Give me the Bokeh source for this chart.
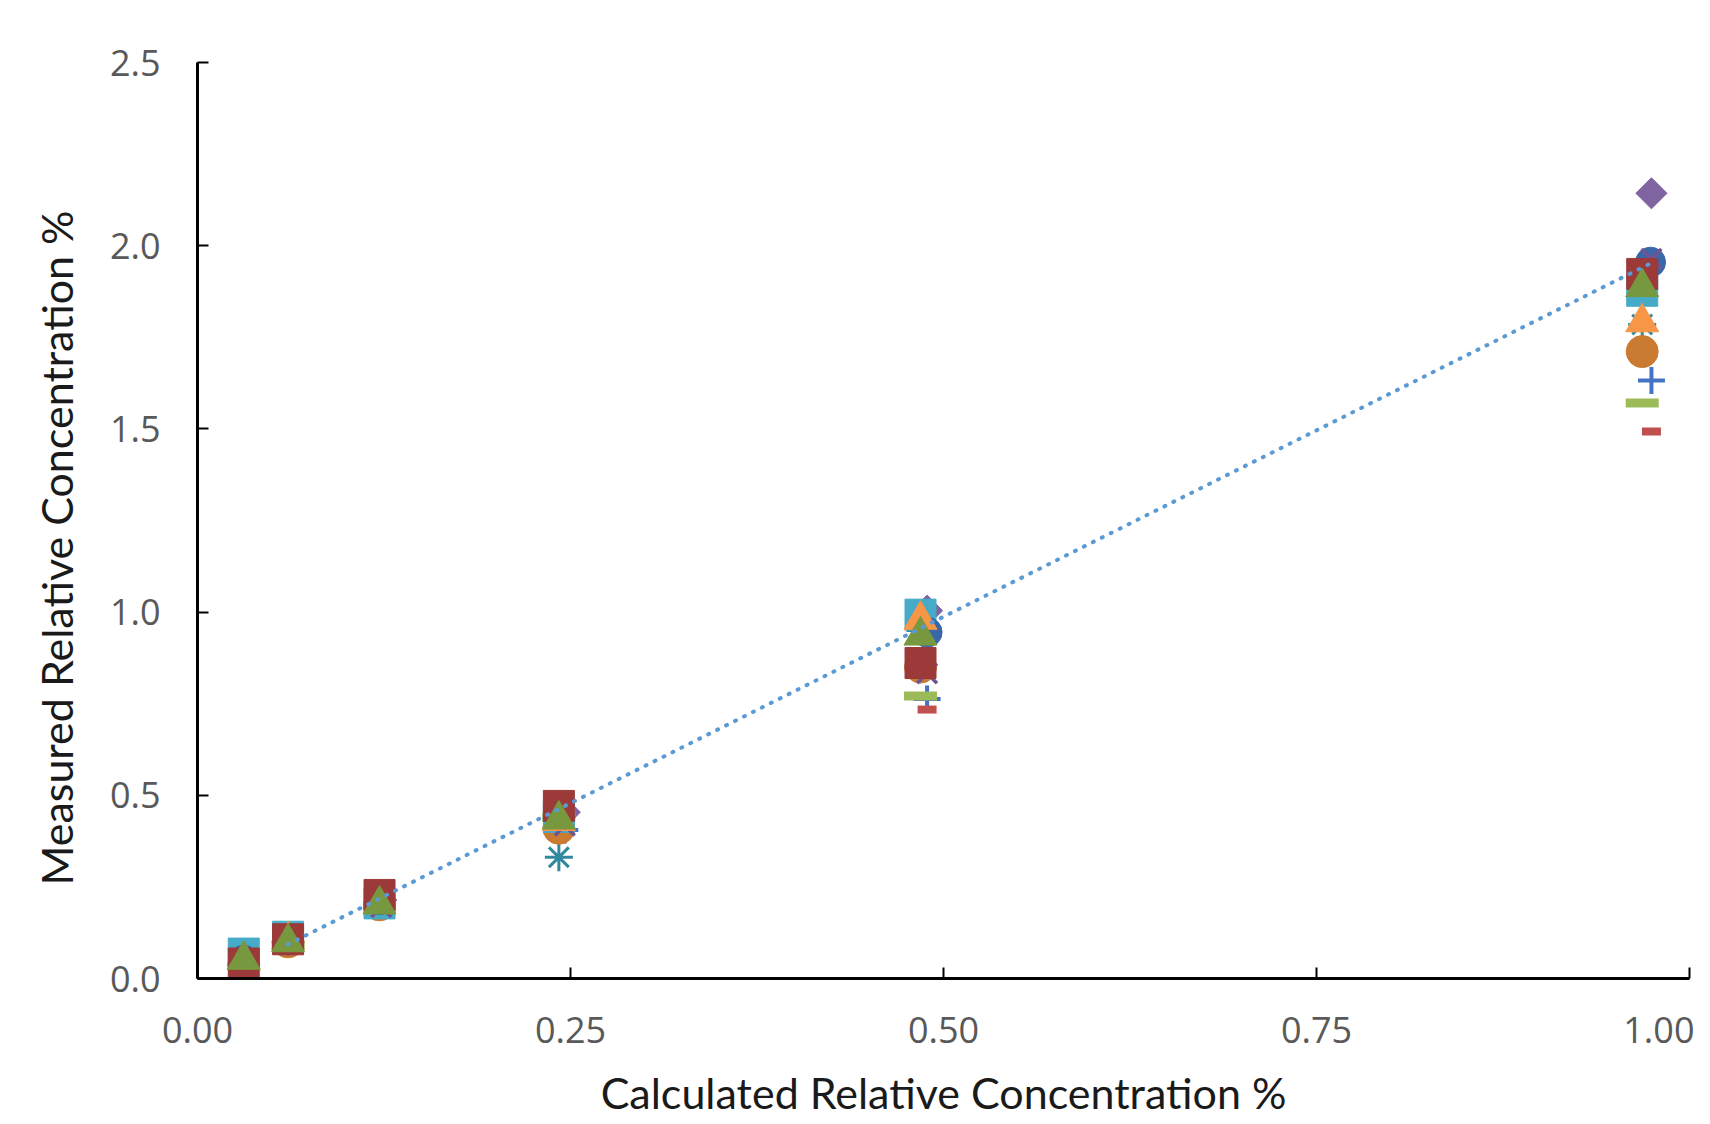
from bokeh.plotting import figure
from bokeh.models import Range1d, FixedTicker
from bokeh.embed import file_html
from bokeh.resources import INLINE
import math

# ---- data ----
x_a = [0.031, 0.0607, 0.122, 0.2422, 0.4846, 0.9683]
x_b = [0.031, 0.0607, 0.1232, 0.2462, 0.489, 0.9745]
x_c = [0.031, 0.0607, 0.122, 0.2422, 0.489, 0.9739]

diamond_purple = [0.060, 0.105, 0.214, 0.454, 1.004, 2.143]
asterisk_teal = [0.050, 0.100, 0.210, 0.331, 0.950, 1.785]
circle_orange = [0.038, 0.100, 0.201, 0.410, 0.850, 1.711]
square_teal = [0.068, 0.114, 0.205, 0.441, 0.993, 1.877]
circle_blue = [0.050, 0.105, 0.215, 0.450, 0.945, 1.955]
x_purple = [0.050, 0.105, 0.195, 0.417, 0.833, 1.964]
triangle_orange = [0.050, 0.105, 0.210, 0.430, 0.979, 1.791]
square_red = [0.041, 0.107, 0.228, 0.471, 0.861, 1.923]
triangle_green = [0.051, 0.099, 0.202, 0.434, 0.936, 1.887]
plus_blue = [0.040, 0.100, 0.210, 0.405, 0.763, 1.632]
dash_green = [-0.012, 0.090, 0.200, 0.440, 0.771, 1.571]
dash_red = [0.020, 0.090, 0.190, 0.420, 0.734, 1.493]

trend_x = [0.0605, 0.976]
trend_y = [0.093, 1.956]

x_ticks = [0.0, 0.25, 0.5, 0.75, 1.0]
y_ticks = [0.0, 0.5, 1.0, 1.5, 2.0, 2.5]

W, H = 1694, 1124
p = figure(width=W, height=H, output_backend="svg", toolbar_location=None,
           x_range=Range1d(0, 1.0), y_range=Range1d(0, 2.5),
           min_border_left=197, min_border_right=W - 1689, min_border_top=62,
           min_border_bottom=H - 978)
p.outline_line_color = None
p.xgrid.grid_line_color = None
p.ygrid.grid_line_color = None
p.background_fill_color = "white"
p.border_fill_color = "white"

# series (drawn bottom to top)
p.scatter(x_b, diamond_purple, marker="square", size=22, angle=math.pi / 4,
          fill_color="#8064A2", line_color="#8064A2")
p.scatter(x_b, plus_blue, marker="cross", size=27, line_color="#4472C4", line_width=4)
p.scatter(x_a, dash_green, marker="dash", size=33, line_color="#9BBB59", line_width=9)
p.scatter(x_b, dash_red, marker="dash", size=19, line_color="#C0504D", line_width=8)
p.scatter(x_a, asterisk_teal, marker="asterisk", size=28, line_color="#31899F", line_width=3)
p.scatter(x_a, circle_orange, marker="circle", size=32, fill_color="#CB7A31", line_color="#CB7A31")
p.scatter(x_a, square_teal, marker="square", size=31, fill_color="#46ABC8", line_color="#46ABC8")
p.scatter(x_c, circle_blue, marker="circle", size=30, fill_color="#3A67A8", line_color="#3A67A8")
p.scatter(x_b, x_purple, marker="x", size=28, line_color="#6F5495", line_width=3.5)
p.scatter(x_a, triangle_orange, marker="triangle", size=33, fill_color="#F79646", line_color="#F79646")
p.scatter(x_a, square_red, marker="square", size=31, fill_color="#9B3A38", line_color="#9B3A38")
p.scatter(x_a, triangle_green, marker="triangle", size=33, fill_color="#77983E", line_color="#77983E")

# trendline
p.line(trend_x, trend_y, line_color="#5B9BD5", line_width=4, line_dash="1 9", line_cap="round")

# axes
for ax in (p.xaxis[0], p.yaxis[0]):
    ax.axis_line_color = "black"
    ax.axis_line_width = 3
    ax.major_tick_line_color = "black"
    ax.major_tick_line_width = 2
    ax.major_tick_in = 11
    ax.major_tick_out = 0
    ax.minor_tick_line_color = None
    ax.major_label_text_font = "Open Sans"
    ax.major_label_text_font_size = "36px"
    ax.major_label_text_color = "#595959"
    ax.axis_label_text_font = "Lato"
    ax.axis_label_text_font_size = "43px"
    ax.axis_label_text_font_style = "normal"
    ax.axis_label_text_color = "#1a1a1a"

p.xaxis[0].ticker = FixedTicker(ticks=x_ticks)
p.yaxis[0].ticker = FixedTicker(ticks=y_ticks)
p.xaxis[0].major_label_overrides = {0.0: "0.00", 0.25: "0.25", 0.5: "0.50", 0.75: "0.75", 1.0: "1.00"}
p.yaxis[0].major_label_overrides = {0.0: "0.0", 0.5: "0.5", 1.0: "1.0", 1.5: "1.5", 2.0: "2.0", 2.5: "2.5"}
p.xaxis[0].axis_label = "Calculated Relative Concentration %"
p.yaxis[0].axis_label = "Measured Relative Concentration %" + "\u00a0" * 5
p.xaxis[0].major_label_standoff = 38
p.yaxis[0].major_label_standoff = 37
p.xaxis[0].axis_label_standoff = 21
p.yaxis[0].axis_label_standoff = 25

open("out.html", "w").write(file_html(p, INLINE))
